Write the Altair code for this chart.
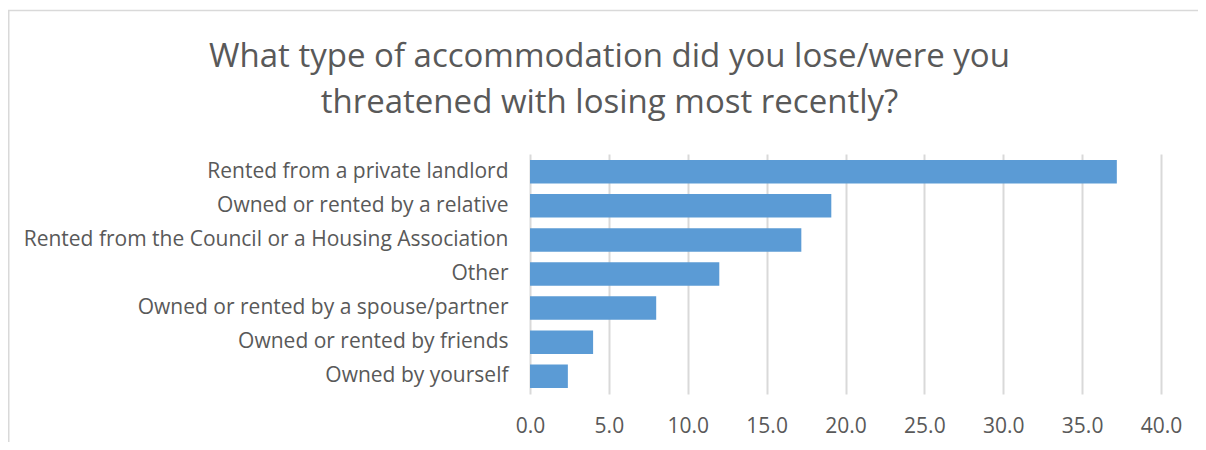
import altair as alt
import pandas as pd

categories = [
    "Rented from a private landlord",
    "Owned or rented by a relative",
    "Rented from the Council or a Housing Association",
    "Other",
    "Owned or rented by a spouse/partner",
    "Owned or rented by friends",
    "Owned by yourself",
]
values = [37.2, 19.1, 17.2, 12.0, 8.0, 4.0, 2.4]
x_ticks = [0, 5, 10, 15, 20, 25, 30, 35, 40]
title_lines = ["What type of accommodation did you lose/were you",
               "threatened with losing most recently?"]

df = pd.DataFrame({"category": categories, "value": values})
FONT = "Open Sans"
GRAY = "#595959"

border = alt.Chart(pd.DataFrame({"a": [0]})).mark_rect(
    filled=False, stroke="#d9d9d9", strokeWidth=1.5, clip=False
).encode(
    x=alt.value(-521.25), x2=alt.value(720),
    y=alt.value(-143.5), y2=alt.value(340),
)

bars = alt.Chart(df).mark_bar(color="#5B9BD5").encode(
    x=alt.X("value:Q",
            scale=alt.Scale(domain=[0, 40], nice=False, zero=True),
            axis=alt.Axis(values=x_ticks, format=".1f", title=None,
                          grid=True, gridColor="#d9d9d9", gridWidth=2,
                          domain=False, ticks=False, labelFlush=False,
                          labelFont=FONT, labelFontSize=21, labelColor=GRAY,
                          labelPadding=21)),
    y=alt.Y("category:N", sort=categories,
            scale=alt.Scale(paddingInner=0.31, paddingOuter=0.175),
            axis=alt.Axis(title=None, domain=False, ticks=False,
                          labelFont=FONT, labelFontSize=21, labelColor=GRAY,
                          labelPadding=22, labelLimit=600)),
)

chart = alt.layer(border, bars).properties(
    width=631,
    height=240,
    autosize=alt.AutoSizeParams(type="none"),
    padding={"left": 522, "top": 146, "right": 37, "bottom": 48},
    title=alt.TitleParams(
        text=title_lines, font=FONT, fontSize=33, fontWeight="normal",
        color=GRAY, anchor="middle", frame="group", dx=-236,
        offset=0, dy=110, lineHeight=46,
    ),
).configure_view(stroke=None)

chart.save("out.html", embed_options={"renderer": "svg", "actions": False})
